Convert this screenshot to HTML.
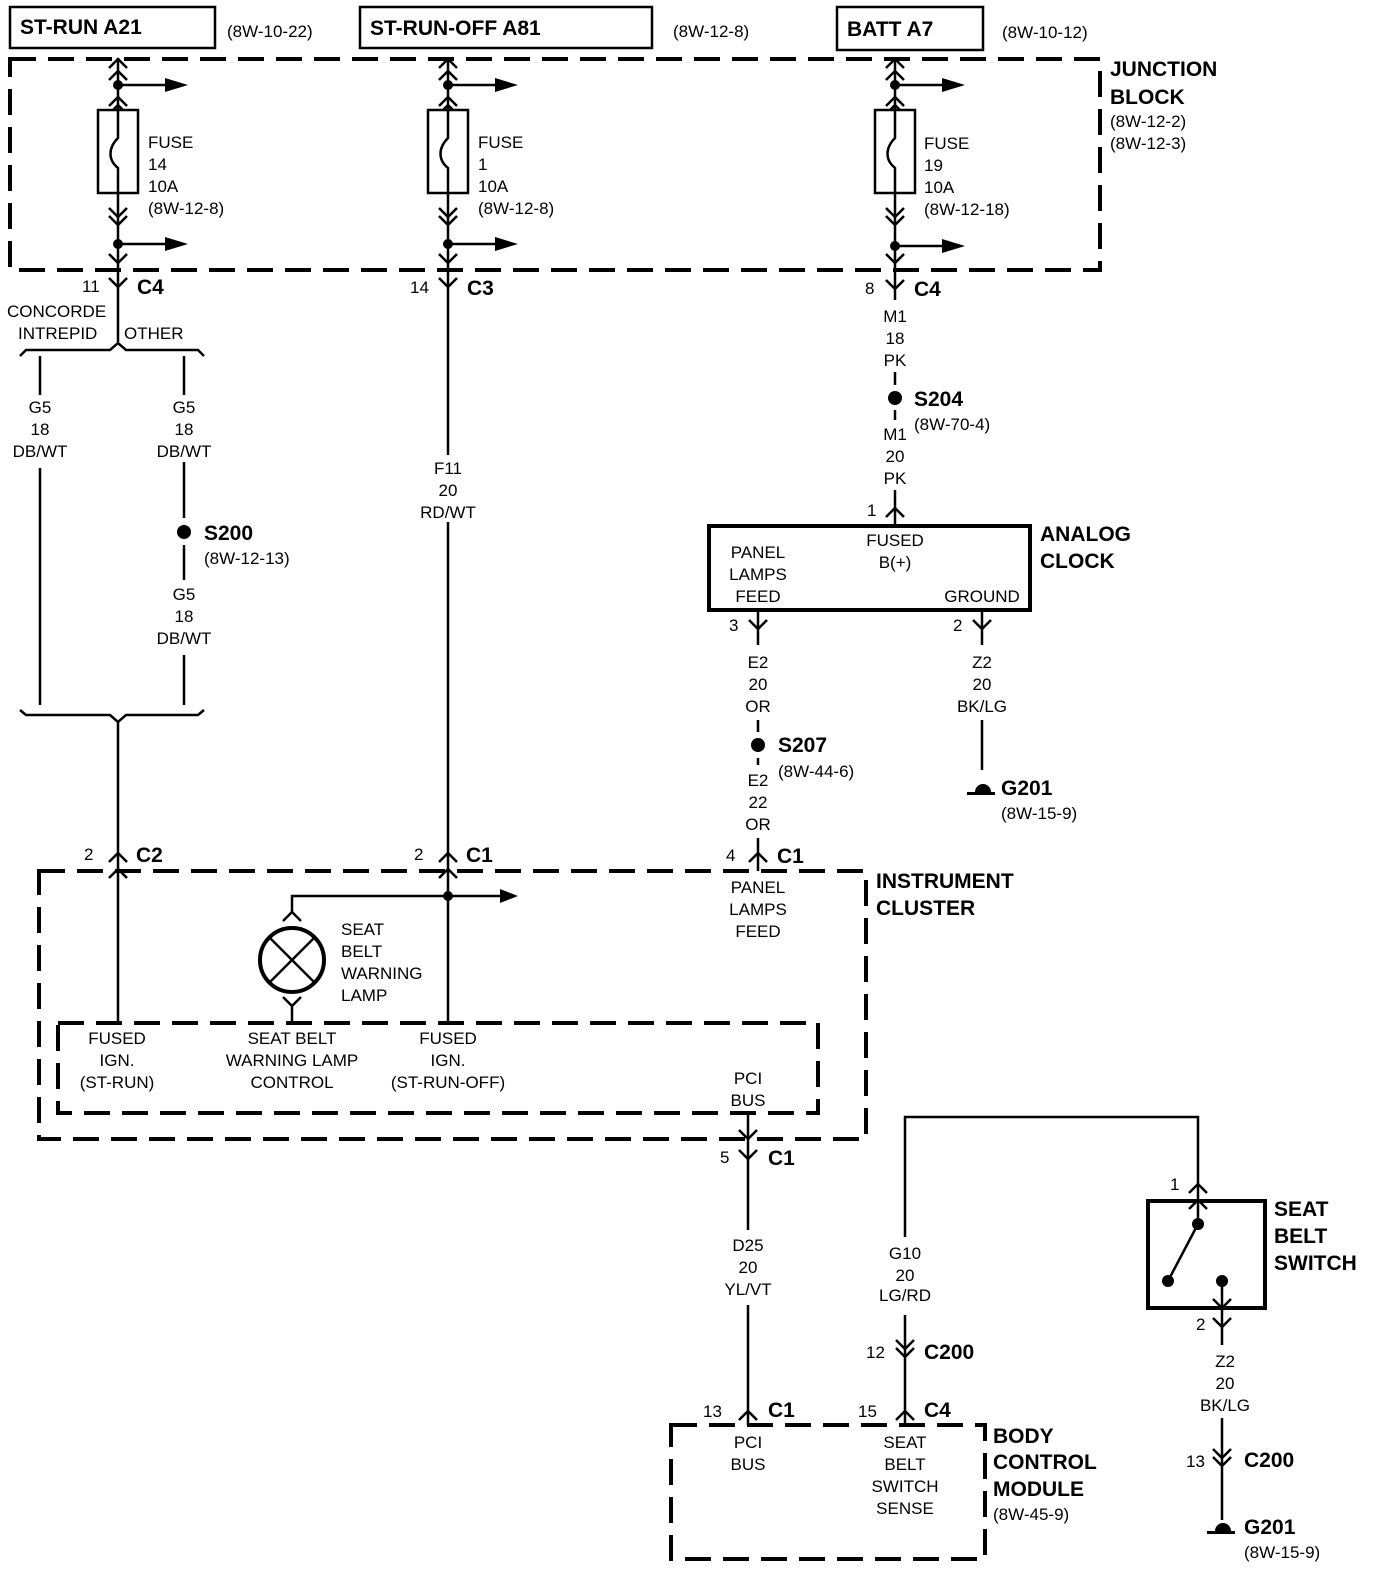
<!DOCTYPE html>
<html><head><meta charset="utf-8"><style>
html,body{margin:0;padding:0;background:#fff}
svg{display:block}
text{font-family:"Liberation Sans",Arial,sans-serif;fill:#000}
.t{font-size:17px}
.b{font-size:21px;font-weight:bold}
.m{text-anchor:middle}
</style></head><body>
<svg width="1392" height="1574" viewBox="0 0 1392 1574" xmlns="http://www.w3.org/2000/svg">
<g fill="none" stroke="#000" stroke-width="2.5">
<rect x="10" y="7" width="205" height="41"/>
<rect x="360" y="7" width="292" height="41"/>
<rect x="837" y="7" width="146" height="43"/>
<rect x="10" y="59" width="1090" height="211" stroke-width="4" stroke-dasharray="26,12"/>
<rect x="39" y="871" width="827" height="268" stroke-width="4" stroke-dasharray="26,12"/>
<rect x="58" y="1023" width="760" height="90" stroke-width="4" stroke-dasharray="26,12"/>
<rect x="671" y="1425" width="314" height="134" stroke-width="4" stroke-dasharray="26,12"/>
<rect x="709" y="526" width="321" height="84" stroke-width="4"/>
<rect x="1148" y="1201" width="117" height="107" stroke-width="4"/>
</g>

<g fill="none" stroke="#000" stroke-width="2.5">
<g>
<line x1="118" y1="58" x2="118" y2="270"/>
<path d="M109 68 L118 59 L127 68 M109 80 L118 71 L127 80"/>
<path d="M109 106 L118 97 L127 106 M109 114 L118 105 L127 114"/>
<rect x="98" y="110" width="40" height="83" fill="#fff"/>
<path d="M118 110 L118 138 C108 148,108 160,118 168 L118 193"/>
<path d="M109 208 L118 217 L127 208 M109 216 L118 225 L127 216"/>
<line x1="118" y1="85" x2="165" y2="85"/>
<line x1="118" y1="244" x2="165" y2="244"/>
<path d="M109 254 L118 263 L127 254"/>
<path d="M109 278 L118 287 L127 278"/>
</g>
<g transform="translate(330,0)">
<line x1="118" y1="58" x2="118" y2="270"/>
<path d="M109 68 L118 59 L127 68 M109 80 L118 71 L127 80"/>
<path d="M109 106 L118 97 L127 106 M109 114 L118 105 L127 114"/>
<rect x="98" y="110" width="40" height="83" fill="#fff"/>
<path d="M118 110 L118 138 C108 148,108 160,118 168 L118 193"/>
<path d="M109 208 L118 217 L127 208 M109 216 L118 225 L127 216"/>
<line x1="118" y1="85" x2="165" y2="85"/>
<line x1="118" y1="244" x2="165" y2="244"/>
<path d="M109 254 L118 263 L127 254"/>
<path d="M109 278 L118 287 L127 278"/>
</g>
<g transform="translate(777,0)">
<line x1="118" y1="58" x2="118" y2="270"/>
<path d="M109 68 L118 59 L127 68 M109 80 L118 71 L127 80"/>
<path d="M109 106 L118 97 L127 106 M109 114 L118 105 L127 114"/>
<rect x="98" y="110" width="40" height="83" fill="#fff"/>
<path d="M118 110 L118 138 C108 148,108 160,118 168 L118 193"/>
<path d="M109 208 L118 217 L127 208 M109 216 L118 225 L127 216"/>
<line x1="118" y1="85" x2="165" y2="85"/>
<line x1="118" y1="246" x2="165" y2="246"/>
<path d="M109 254 L118 263 L127 254"/>
<path d="M109 280 L118 289 L127 280"/>
</g>

<line x1="118" y1="270" x2="118" y2="342"/>
<path d="M20 356 L26 350 L110 350 L118 343 L126 350 L198 350 L204 356"/>
<line x1="40" y1="356" x2="40" y2="395"/>
<line x1="184" y1="356" x2="184" y2="395"/>
<line x1="40" y1="468" x2="40" y2="705"/>
<line x1="184" y1="462" x2="184" y2="518"/>
<line x1="184" y1="545" x2="184" y2="580"/>
<line x1="184" y1="655" x2="184" y2="705"/>
<path d="M20 710 L26 715 L110 715 L118 722 L126 715 L198 715 L204 710"/>
<line x1="118" y1="722" x2="118" y2="1023"/>
<path d="M109 862 L118 853 L127 862"/>
<path d="M109 878 L118 869 L127 878"/>

<line x1="448" y1="270" x2="448" y2="455"/>
<line x1="448" y1="522" x2="448" y2="1023"/>
<path d="M439 862 L448 853 L457 862"/>
<path d="M439 878 L448 869 L457 878"/>
<line x1="448" y1="896" x2="500" y2="896"/>
<path d="M448 896 L292 896 L292 912"/>
<path d="M283 921 L292 912 L301 921"/>
<circle cx="292" cy="960" r="32" stroke-width="4"/>
<line x1="269" y1="937" x2="315" y2="983"/>
<line x1="315" y1="937" x2="269" y2="983"/>
<path d="M283 997 L292 1006 L301 997"/>
<line x1="292" y1="1006" x2="292" y2="1023"/>

<line x1="895" y1="270" x2="895" y2="300"/>
<line x1="895" y1="372" x2="895" y2="385"/>
<line x1="895" y1="410" x2="895" y2="420"/>
<line x1="895" y1="490" x2="895" y2="526"/>
<path d="M886 517 L895 508 L904 517"/>
<line x1="758" y1="610" x2="758" y2="645"/>
<path d="M749 620 L758 629 L767 620"/>
<line x1="758" y1="720" x2="758" y2="732"/>
<line x1="758" y1="758" x2="758" y2="765"/>
<line x1="758" y1="838" x2="758" y2="871"/>
<path d="M749 862 L758 853 L767 862"/>
<line x1="982" y1="610" x2="982" y2="645"/>
<path d="M973 620 L982 629 L991 620"/>
<line x1="982" y1="720" x2="982" y2="770"/>
<line x1="748" y1="1113" x2="748" y2="1230"/>
<path d="M739 1130 L748 1139 L757 1130"/>
<path d="M739 1150 L748 1159 L757 1150"/>
<line x1="748" y1="1305" x2="748" y2="1425"/>
<path d="M739 1420 L748 1411 L757 1420"/>
<path d="M905 1237 L905 1117 L1198 1117 L1198 1201"/>
<path d="M1189 1193 L1198 1184 L1207 1193"/>
<path d="M1189 1209 L1198 1200 L1207 1209"/>
<line x1="905" y1="1315" x2="905" y2="1425"/>
<path d="M896 1340 L905 1349 L914 1340 M896 1348 L905 1357 L914 1348"/>
<path d="M896 1420 L905 1411 L914 1420"/>
<line x1="1198" y1="1201" x2="1198" y2="1224"/>
<line x1="1198" y1="1224" x2="1168" y2="1281"/>
<line x1="1222" y1="1281" x2="1222" y2="1345"/>
<path d="M1213 1299 L1222 1308 L1231 1299"/>
<path d="M1213 1318 L1222 1327 L1231 1318"/>
<line x1="1222" y1="1418" x2="1222" y2="1520"/>
<path d="M1213 1449 L1222 1458 L1231 1449 M1213 1457 L1222 1466 L1231 1457"/>
</g>

<g fill="#000">
<polygon points="165,78 188,85 165,92"/>
<polygon points="165,237 188,244 165,251"/>
<polygon points="495,78 518,85 495,92"/>
<polygon points="495,237 518,244 495,251"/>
<polygon points="942,78 965,85 942,92"/>
<polygon points="942,239 965,246 942,253"/>
<polygon points="500,889 518,896 500,903"/>
<circle cx="118" cy="85" r="5"/><circle cx="118" cy="244" r="5"/>
<circle cx="448" cy="85" r="5"/><circle cx="448" cy="244" r="5"/>
<circle cx="895" cy="85" r="5"/><circle cx="895" cy="246" r="5"/>
<circle cx="448" cy="896" r="5"/>
<circle cx="184" cy="532" r="7"/>
<circle cx="895" cy="398" r="7"/>
<circle cx="758" cy="745" r="7"/>
<circle cx="1198" cy="1224" r="6"/>
<circle cx="1168" cy="1281" r="6"/>
<circle cx="1222" cy="1281" r="6"/>
<path d="M975 792 a8 8 0 0 1 16 0 z"/><rect x="967" y="792" width="28" height="3"/>
<path d="M1215 1531 a8 8 0 0 1 16 0 z"/><rect x="1207" y="1531" width="28" height="3"/>
</g>

<text class="b" x="20" y="34">ST-RUN A21</text>
<text class="b" x="370" y="35">ST-RUN-OFF A81</text>
<text class="b" x="847" y="36">BATT A7</text>
<text class="t" x="227" y="37">(8W-10-22)</text>
<text class="t" x="673" y="37">(8W-12-8)</text>
<text class="t" x="1002" y="38">(8W-10-12)</text>
<text class="b" x="1110" y="76">JUNCTION</text>
<text class="b" x="1110" y="104">BLOCK</text>
<text class="t" x="1110" y="127">(8W-12-2)</text>
<text class="t" x="1110" y="149">(8W-12-3)</text>

<text class="t" x="148" y="148">FUSE</text><text class="t" x="148" y="170">14</text><text class="t" x="148" y="192">10A</text><text class="t" x="148" y="214">(8W-12-8)</text>
<text class="t" x="478" y="148">FUSE</text><text class="t" x="478" y="170">1</text><text class="t" x="478" y="192">10A</text><text class="t" x="478" y="214">(8W-12-8)</text>
<text class="t" x="924" y="149">FUSE</text><text class="t" x="924" y="171">19</text><text class="t" x="924" y="193">10A</text><text class="t" x="924" y="215">(8W-12-18)</text>

<text class="t" x="82" y="292">11</text><text class="b" x="137" y="294">C4</text>
<text class="t" x="410" y="293">14</text><text class="b" x="467" y="295">C3</text>
<text class="t" x="865" y="294">8</text><text class="b" x="914" y="296">C4</text>
<text class="t" x="7" y="317">CONCORDE</text>
<text class="t" x="18" y="339">INTREPID</text>
<text class="t" x="124" y="339">OTHER</text>

<text class="t m" x="40" y="413">G5</text><text class="t m" x="40" y="435">18</text><text class="t m" x="40" y="457">DB/WT</text>
<text class="t m" x="184" y="413">G5</text><text class="t m" x="184" y="435">18</text><text class="t m" x="184" y="457">DB/WT</text>
<text class="t m" x="184" y="600">G5</text><text class="t m" x="184" y="622">18</text><text class="t m" x="184" y="644">DB/WT</text>
<text class="t m" x="448" y="474">F11</text><text class="t m" x="448" y="496">20</text><text class="t m" x="448" y="518">RD/WT</text>
<text class="t m" x="895" y="322">M1</text><text class="t m" x="895" y="344">18</text><text class="t m" x="895" y="366">PK</text>
<text class="t m" x="895" y="440">M1</text><text class="t m" x="895" y="462">20</text><text class="t m" x="895" y="484">PK</text>
<text class="t m" x="758" y="668">E2</text><text class="t m" x="758" y="690">20</text><text class="t m" x="758" y="712">OR</text>
<text class="t m" x="758" y="786">E2</text><text class="t m" x="758" y="808">22</text><text class="t m" x="758" y="830">OR</text>
<text class="t m" x="982" y="668">Z2</text><text class="t m" x="982" y="690">20</text><text class="t m" x="982" y="712">BK/LG</text>
<text class="t m" x="748" y="1251">D25</text><text class="t m" x="748" y="1273">20</text><text class="t m" x="748" y="1295">YL/VT</text>
<text class="t m" x="905" y="1259">G10</text><text class="t m" x="905" y="1281">20</text><text class="t m" x="905" y="1301">LG/RD</text>
<text class="t m" x="1225" y="1367">Z2</text><text class="t m" x="1225" y="1389">20</text><text class="t m" x="1225" y="1411">BK/LG</text>

<text class="b" x="204" y="540">S200</text><text class="t" x="204" y="564">(8W-12-13)</text>
<text class="b" x="914" y="406">S204</text><text class="t" x="914" y="430">(8W-70-4)</text>
<text class="b" x="778" y="752">S207</text><text class="t" x="778" y="777">(8W-44-6)</text>
<text class="b" x="1001" y="795">G201</text><text class="t" x="1001" y="819">(8W-15-9)</text>
<text class="b" x="1244" y="1534">G201</text><text class="t" x="1244" y="1558">(8W-15-9)</text>

<text class="t" x="867" y="516">1</text>
<text class="t m" x="895" y="546">FUSED</text><text class="t m" x="895" y="568">B(+)</text>
<text class="t m" x="758" y="558">PANEL</text><text class="t m" x="758" y="580">LAMPS</text><text class="t m" x="758" y="602">FEED</text>
<text class="t m" x="982" y="602">GROUND</text>
<text class="b" x="1040" y="541">ANALOG</text><text class="b" x="1040" y="568">CLOCK</text>
<text class="t" x="729" y="631">3</text><text class="t" x="953" y="631">2</text>

<text class="t" x="84" y="860">2</text><text class="b" x="136" y="862">C2</text>
<text class="t" x="414" y="860">2</text><text class="b" x="466" y="862">C1</text>
<text class="t" x="726" y="861">4</text><text class="b" x="777" y="863">C1</text>
<text class="t m" x="758" y="893">PANEL</text><text class="t m" x="758" y="915">LAMPS</text><text class="t m" x="758" y="937">FEED</text>
<text class="b" x="876" y="888">INSTRUMENT</text><text class="b" x="876" y="915">CLUSTER</text>
<text class="t" x="341" y="935">SEAT</text><text class="t" x="341" y="957">BELT</text><text class="t" x="341" y="979">WARNING</text><text class="t" x="341" y="1001">LAMP</text>
<text class="t m" x="117" y="1044">FUSED</text><text class="t m" x="117" y="1066">IGN.</text><text class="t m" x="117" y="1088">(ST-RUN)</text>
<text class="t m" x="292" y="1044">SEAT BELT</text><text class="t m" x="292" y="1066">WARNING LAMP</text><text class="t m" x="292" y="1088">CONTROL</text>
<text class="t m" x="448" y="1044">FUSED</text><text class="t m" x="448" y="1066">IGN.</text><text class="t m" x="448" y="1088">(ST-RUN-OFF)</text>
<text class="t m" x="748" y="1084">PCI</text><text class="t m" x="748" y="1106">BUS</text>

<text class="t" x="720" y="1163">5</text><text class="b" x="768" y="1165">C1</text>
<text class="t" x="866" y="1358">12</text><text class="b" x="924" y="1359">C200</text>
<text class="t" x="703" y="1417">13</text><text class="b" x="768" y="1417">C1</text>
<text class="t" x="858" y="1417">15</text><text class="b" x="924" y="1417">C4</text>
<text class="t m" x="748" y="1448">PCI</text><text class="t m" x="748" y="1470">BUS</text>
<text class="t m" x="905" y="1448">SEAT</text><text class="t m" x="905" y="1470">BELT</text><text class="t m" x="905" y="1492">SWITCH</text><text class="t m" x="905" y="1514">SENSE</text>
<text class="b" x="993" y="1443">BODY</text><text class="b" x="993" y="1469">CONTROL</text><text class="b" x="993" y="1496">MODULE</text>
<text class="t" x="993" y="1520">(8W-45-9)</text>
<text class="t" x="1170" y="1190">1</text>
<text class="t" x="1196" y="1330">2</text>
<text class="b" x="1274" y="1216">SEAT</text><text class="b" x="1274" y="1243">BELT</text><text class="b" x="1274" y="1270">SWITCH</text>
<text class="t" x="1186" y="1467">13</text><text class="b" x="1244" y="1467">C200</text>
</svg>
</body></html>
